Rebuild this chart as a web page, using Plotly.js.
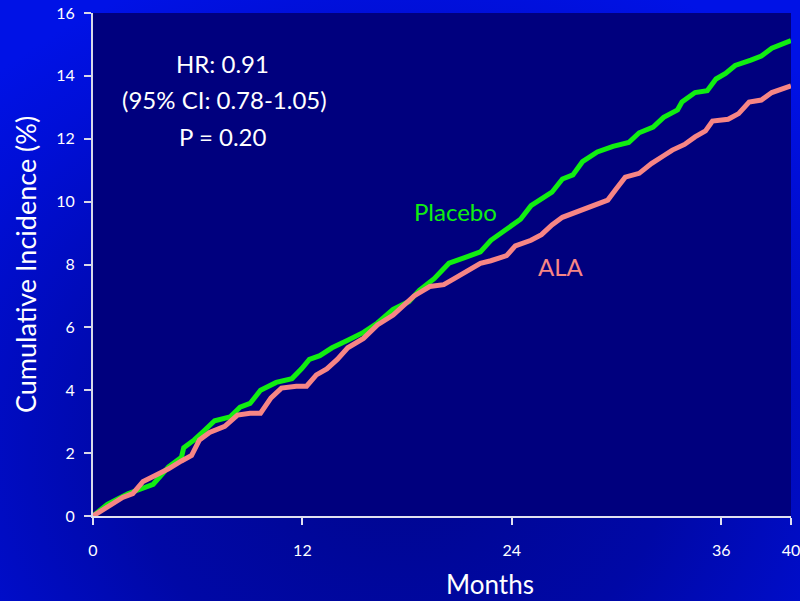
<!DOCTYPE html>
<html>
<head>
<meta charset="utf-8">
<script src="https://cdn.plot.ly/plotly-3.0.1.min.js"></script>
<style>
  html, body { margin: 0; padding: 0; }
  body {
    width: 800px; height: 601px; overflow: hidden;
    background: radial-gradient(ellipse 75% 85% at 50% 75%, #00068e 0%, #0008a6 45%, #000fd8 85%, #0012e6 100%);
  }
  #chart { width: 800px; height: 601px; }
</style>
</head>
<body>
<div id="chart"></div>
<script>
// Placebo cumulative incidence (%) vs months
const placeboMonths = [0, 0.82, 2.0, 3.45, 4.33, 5.07, 5.2, 5.8, 6.38, 6.97, 7.85, 8.43, 9.0, 9.6, 10.5, 11.4, 11.95, 12.4, 13.0, 13.7, 14.6, 15.5, 16.3, 17.2, 18.1, 18.7, 19.55, 20.4, 21.3, 22.2, 22.8, 23.7, 24.5, 25.1, 25.7, 26.3, 26.9, 27.5, 28.05, 28.9, 29.8, 30.7, 31.3, 32.1, 32.7, 33.5, 33.75, 34.5, 35.2, 35.7, 36.25, 36.8, 37.7, 38.3, 38.9, 39.5, 40];
const placeboValues = [0, 0.37, 0.71, 1.01, 1.56, 1.87, 2.17, 2.42, 2.72, 3.03, 3.15, 3.46, 3.58, 4.0, 4.25, 4.37, 4.68, 4.98, 5.1, 5.35, 5.59, 5.84, 6.14, 6.57, 6.82, 7.18, 7.55, 8.04, 8.22, 8.4, 8.77, 9.14, 9.44, 9.87, 10.1, 10.3, 10.72, 10.85, 11.27, 11.58, 11.76, 11.88, 12.19, 12.37, 12.68, 12.92, 13.17, 13.47, 13.53, 13.9, 14.08, 14.33, 14.5, 14.63, 14.88, 15.0, 15.12];

// ALA cumulative incidence (%) vs months
const alaMonths = [0, 0.82, 1.7, 2.28, 2.87, 3.45, 4.33, 5.07, 5.65, 6.1, 6.68, 7.55, 8.28, 9.0, 9.6, 10.2, 10.8, 11.65, 12.24, 12.8, 13.4, 14.0, 14.6, 15.5, 16.3, 17.2, 17.8, 18.4, 19.3, 20.1, 20.7, 21.3, 22.2, 22.8, 23.7, 24.2, 25.1, 25.7, 26.3, 26.9, 27.8, 28.6, 29.5, 30.0, 30.5, 31.3, 32.0, 32.7, 33.2, 33.9, 34.5, 35.1, 35.5, 36.4, 37.0, 37.6, 38.3, 38.9, 39.5, 40];
const alaValues = [0, 0.28, 0.59, 0.71, 1.1, 1.26, 1.5, 1.75, 1.93, 2.42, 2.66, 2.85, 3.21, 3.27, 3.27, 3.76, 4.07, 4.13, 4.13, 4.49, 4.68, 4.98, 5.35, 5.65, 6.08, 6.39, 6.69, 7.0, 7.3, 7.36, 7.55, 7.73, 8.04, 8.12, 8.28, 8.59, 8.77, 8.95, 9.26, 9.5, 9.69, 9.87, 10.05, 10.42, 10.78, 10.9, 11.21, 11.46, 11.64, 11.82, 12.06, 12.25, 12.56, 12.62, 12.8, 13.17, 13.23, 13.47, 13.6, 13.68];

const xTicks = [0, 12, 24, 36, 40];
const yTicks = [0, 2, 4, 6, 8, 10, 12, 14, 16];

const statsLines = ["HR: 0.91", "(95% CI: 0.78-1.05)", "P = 0.20"];

const FONT = "Lato, 'Open Sans', sans-serif";

const traces = [
  {
    x: placeboMonths, y: placeboValues, name: "Placebo",
    type: "scatter", mode: "lines",
    line: { color: "#11ee11", width: 5 }
  },
  {
    x: alaMonths, y: alaValues, name: "ALA",
    type: "scatter", mode: "lines",
    line: { color: "#f78585", width: 5 }
  }
];

const layout = {
  width: 800, height: 601,
  margin: { l: 93, r: 9, t: 13, b: 85 },
  paper_bgcolor: "rgba(0,0,0,0)",
  plot_bgcolor: "#00007e",
  showlegend: false,
  font: { family: FONT, color: "#ffffff" },
  xaxis: {
    range: [0, 40], tickvals: xTicks, ticktext: xTicks.map(String),
    showgrid: false, zeroline: false,
    showline: true, linecolor: "#e0e0f0", linewidth: 2,
    ticks: "outside", ticklen: 7, tickwidth: 2, tickcolor: "#e0e0f0",
    ticklabelstandoff: 12, ticklabeloverflow: "allow",
    tickfont: { family: FONT, size: 16, color: "#ffffff" }
  },
  yaxis: {
    range: [0, 16], tickvals: yTicks, ticktext: yTicks.map(String),
    showgrid: false, zeroline: false,
    showline: true, linecolor: "#d8d8e8", linewidth: 2,
    ticks: "outside", ticklen: 7, tickwidth: 2, tickcolor: "#d8d8e8",
    ticklabelstandoff: 6,
    tickfont: { family: FONT, size: 16, color: "#ffffff" },
    title: { text: "Cumulative Incidence (%)", font: { family: FONT, size: 27, color: "#ffffff" }, standoff: 12 }
  },
  annotations: [
    { xref: "paper", yref: "paper", x: (222 - 93) / 698, y: (516.5 - 64) / 503.5, text: statsLines[0], showarrow: false, xanchor: "center", yanchor: "middle", font: { family: FONT, size: 24, color: "#ffffff" } },
    { xref: "paper", yref: "paper", x: (224 - 93) / 698, y: (516.5 - 100) / 503.5, text: statsLines[1], showarrow: false, xanchor: "center", yanchor: "middle", font: { family: FONT, size: 24, color: "#ffffff" } },
    { xref: "paper", yref: "paper", x: (222 - 93) / 698, y: (516.5 - 137) / 503.5, text: statsLines[2], showarrow: false, xanchor: "center", yanchor: "middle", font: { family: FONT, size: 24, color: "#ffffff" } },
    { xref: "paper", yref: "paper", x: (455 - 93) / 698, y: (516.5 - 212) / 503.5, text: "Placebo", showarrow: false, xanchor: "center", yanchor: "middle", font: { family: FONT, size: 24, color: "#11ee11" } },
    { xref: "paper", yref: "paper", x: (561 - 93) / 698, y: (516.5 - 267) / 503.5, text: "ALA", showarrow: false, xanchor: "center", yanchor: "middle", font: { family: FONT, size: 24, color: "#f78585" } },
    { xref: "paper", yref: "paper", x: (490 - 93) / 698, y: (516.5 - 585) / 503.5, text: "Months", showarrow: false, xanchor: "center", yanchor: "middle", font: { family: FONT, size: 26, color: "#ffffff" } }
  ]
};

Plotly.newPlot("chart", traces, layout, { displayModeBar: false, staticPlot: true });
</script>
</body>
</html>
